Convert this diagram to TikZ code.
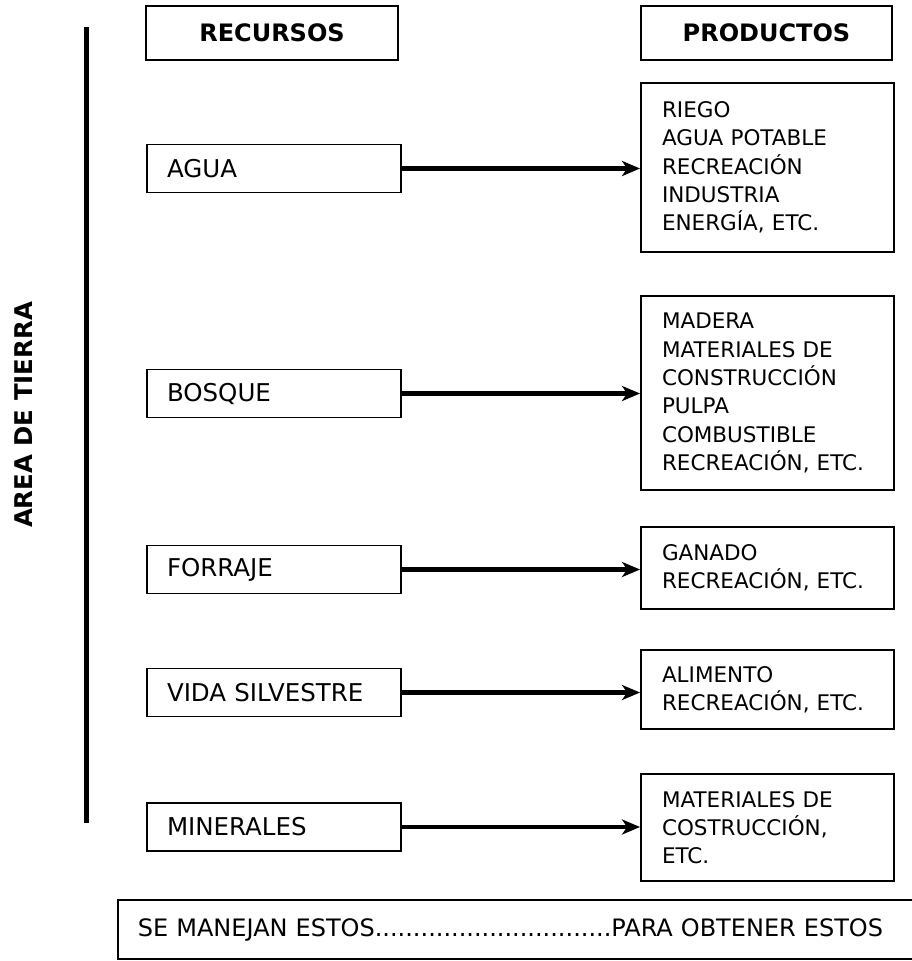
\documentclass[tikz,border=0pt]{standalone}
\usepackage{fontspec}
\setmainfont{DejaVu Sans}
\usepackage{tikz}
\usetikzlibrary{arrows.meta}

\tikzset{
    recurso/.style={draw, line width=1.9pt, minimum width=254pt, minimum height=48pt, inner xsep=20pt,
        text width=214pt, align=left, font=\fontsize{24.5}{28}\selectfont},
    producto/.style={draw, line width=1.9pt, minimum width=253pt, inner xsep=21pt, inner ysep=0pt,
        text width=211pt, align=left, font=\fontsize{21.5}{28.3}\selectfont},
    titulo/.style={draw, line width=1.9pt, minimum height=54pt, font=\bfseries\fontsize{24}{28}\selectfont},
    flecha/.style={line width=4.2pt, -{Stealth[length=18pt, width=15pt, inset=5pt]}}
}

\begin{document}
\begin{tikzpicture}[x=1pt, y=-1pt]
        \useasboundingbox (0,0) rectangle (911,961);

        \node[titulo, minimum width=252pt] (recursos) at (272, 33) {RECURSOS};
        \node[titulo, minimum width=251pt] (productos) at (766.5, 33) {PRODUCTOS};

        \node[rotate=90, font=\bfseries\fontsize{24.4}{28}\selectfont] (area) at (24, 415) {AREA DE TIERRA};
        \coordinate (barra arriba) at (86, 27);
        \coordinate (barra abajo) at (86, 823);
        \draw[line width=5pt] (barra arriba) -- (barra abajo);

        \node[recurso] (agua) at (274, 168.5) {AGUA};
        \node[recurso] (bosque) at (274, 393.5) {BOSQUE};
        \node[recurso] (forraje) at (274, 569.5) {FORRAJE};
        \node[recurso] (vida) at (274, 692.5) {VIDA SILVESTRE};
        \node[recurso] (minerales) at (274, 827) {MINERALES};

        \node[producto, minimum height=169pt] (pagua) at (767.5, 167.5)
            {RIEGO\\AGUA POTABLE\\RECREACIÓN\\INDUSTRIA\\ENERGÍA, ETC.};
        \node[producto, minimum height=194pt] (pbosque) at (767.5, 393)
            {MADERA\\MATERIALES DE\\CONSTRUCCIÓN\\PULPA\\COMBUSTIBLE\\RECREACIÓN, ETC.};
        \node[producto, minimum height=82pt] (pforraje) at (767.5, 568)
            {GANADO\\RECREACIÓN, ETC.};
        \node[producto, minimum height=79pt] (pvida) at (767.5, 689.5)
            {ALIMENTO\\RECREACIÓN, ETC.};
        \node[producto, minimum height=107pt] (pminerales) at (767.5, 827.5)
            {MATERIALES DE\\COSTRUCCIÓN,\\ETC.};

        \draw[flecha] (agua.east) -- (agua.east -| pagua.west);
        \draw[flecha] (bosque.east) -- (bosque.east -| pbosque.west);
        \draw[flecha] (forraje.east) -- (forraje.east -| pforraje.west);
        \draw[flecha] (vida.east) -- (vida.east -| pvida.west);
        \draw[flecha] (minerales.east) -- (minerales.east -| pminerales.west);

        \node[draw, line width=1.9pt, anchor=west, minimum height=59pt, inner xsep=20pt, text width=780pt,
            align=left, font=\fontsize{24}{28}\selectfont] (lectura) at (117, 929.5)
            {SE MANEJAN ESTOS...............................PARA OBTENER ESTOS};
    \end{tikzpicture}
\end{document}
